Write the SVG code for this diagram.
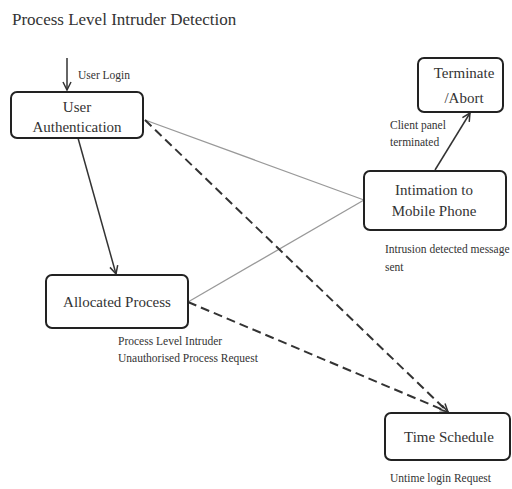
<svg xmlns="http://www.w3.org/2000/svg" width="512" height="489" viewBox="0 0 512 489">
<style>
.box{fill:#fff;stroke:#222;stroke-width:2}
.nt{font-family:"Liberation Serif",serif;font-size:15px;fill:#333;text-anchor:middle}
.lb{font-family:"Liberation Serif",serif;font-size:11.5px;fill:#333}
.title{font-family:"Liberation Serif",serif;font-size:17px;fill:#333}
.solid{stroke:#333;stroke-width:1.5;fill:none}
.gray{stroke:#999;stroke-width:1.3;fill:none}
.dash{stroke:#333;stroke-width:2;stroke-dasharray:9 5;fill:none}
</style>
<defs>
<marker id="ah" markerWidth="10" markerHeight="10" refX="9" refY="5" orient="auto" markerUnits="userSpaceOnUse">
<path d="M1,1 L9,5 L1,9" fill="none" stroke="#333" stroke-width="1.5"/>
</marker>
</defs>
<rect width="512" height="489" fill="#fff"/>
<text class="title" x="12" y="25">Process Level Intruder Detection</text>
<g id="connectors">
<line class="solid" x1="67" y1="58" x2="67" y2="90" marker-end="url(#ah)"/>
<line class="solid" x1="78" y1="138" x2="116" y2="274" marker-end="url(#ah)"/>
<line class="solid" x1="435" y1="170" x2="470" y2="113" marker-end="url(#ah)"/>
<line class="gray" x1="145" y1="120" x2="364" y2="200"/>
<line class="gray" x1="188" y1="302" x2="364" y2="200"/>
<line class="dash" x1="145" y1="120" x2="448" y2="412" marker-end="url(#ah)"/>
<line class="dash" x1="188" y1="302" x2="448" y2="412" marker-end="url(#ah)"/>
</g>
<g id="user-login-label"><text class="lb" x="78" y="79">User Login</text></g>
<g id="user-auth">
<rect class="box" x="11" y="92" width="132" height="46" rx="6"/>
<text class="nt" x="77" y="112">User</text>
<text class="nt" x="77" y="132">Authentication</text>
</g>
<g id="terminate">
<rect class="box" x="418" y="58" width="85" height="54" rx="6"/>
<text class="nt" x="464" y="78">Terminate</text>
<text class="nt" x="464" y="103">/Abort</text>
</g>
<g id="client-label">
<text class="lb" x="390" y="129">Client panel</text>
<text class="lb" x="390" y="146">terminated</text>
</g>
<g id="intimation">
<rect class="box" x="364" y="171" width="142" height="59" rx="6"/>
<text class="nt" x="434" y="195">Intimation to</text>
<text class="nt" x="434" y="216">Mobile Phone</text>
</g>
<g id="intrusion-label">
<text class="lb" x="385" y="253">Intrusion detected message</text>
<text class="lb" x="385" y="271">sent</text>
</g>
<g id="allocated">
<rect class="box" x="46" y="275" width="142" height="53" rx="6"/>
<text class="nt" x="117" y="307">Allocated Process</text>
</g>
<g id="process-label">
<text class="lb" x="118" y="345">Process Level Intruder</text>
<text class="lb" x="118" y="362">Unauthorised Process Request</text>
</g>
<g id="time-schedule">
<rect class="box" x="385" y="413" width="125" height="47" rx="6"/>
<text class="nt" x="449" y="442">Time Schedule</text>
</g>
<g id="untime-label"><text class="lb" x="390" y="482">Untime login Request</text></g>
</svg>
